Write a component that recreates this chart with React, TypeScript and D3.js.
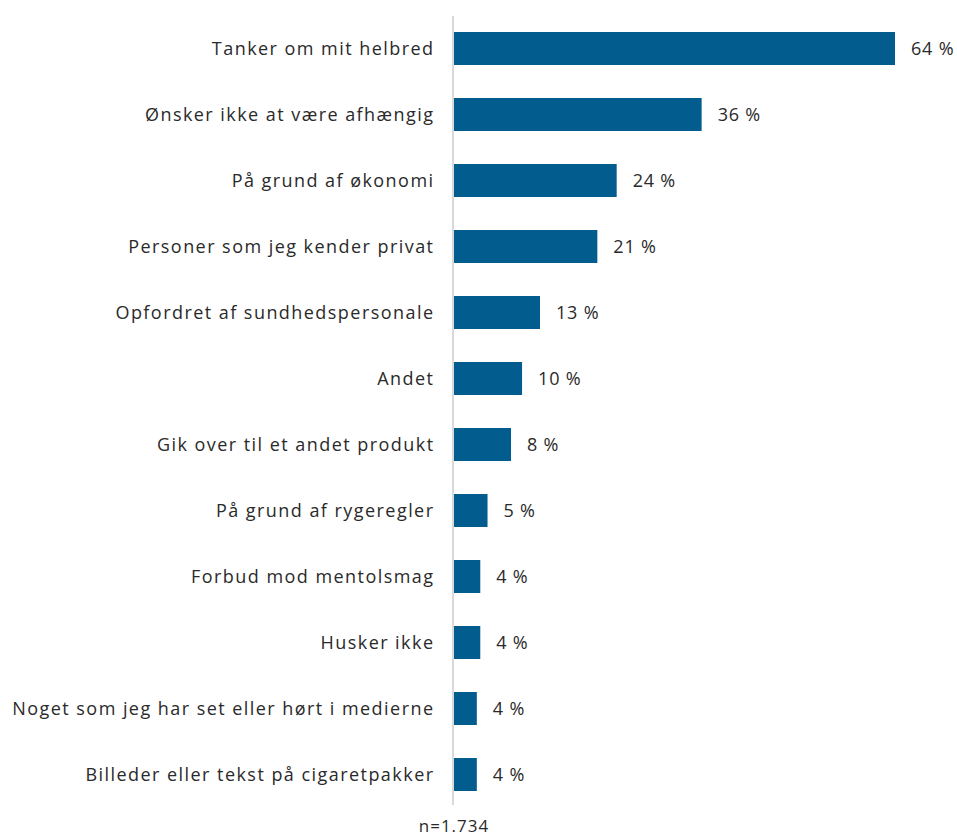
import React from "react";
import * as d3 from "d3";

const categories = [
  "Tanker om mit helbred",
  "Ønsker ikke at være afhængig",
  "På grund af økonomi",
  "Personer som jeg kender privat",
  "Opfordret af sundhedspersonale",
  "Andet",
  "Gik over til et andet produkt",
  "På grund af rygeregler",
  "Forbud mod mentolsmag",
  "Husker ikke",
  "Noget som jeg har set eller hørt i medierne",
  "Billeder eller tekst på cigaretpakker",
];
const values = [64, 36, 23.7, 20.9, 12.6, 10, 8.4, 5, 3.95, 3.95, 3.45, 3.45];
const valueLabels = ["64 %", "36 %", "24 %", "21 %", "13 %", "10 %", "8 %", "5 %", "4 %", "4 %", "4 %", "4 %"];
const note = "n=1.734";

const W = 957;
const H = 836;
const FONT = "'Open Sans', Lato, sans-serif";

export default function App() {
  const x0 = 453;
  const x = d3.scaleLinear().domain([0, 64]).range([x0, 895]);
  const y = d3
    .scaleBand<string>()
    .domain(categories)
    .range([15.5, 807.5])
    .paddingInner(0.5)
    .paddingOuter(0.25);

  return (
    <svg
      width={W}
      height={H}
      style={{ position: "absolute", left: 0, top: 0, background: "#fff" }}
      fontFamily={FONT}
    >
      <line x1={x0} x2={x0} y1={16} y2={805} stroke="#d9d9d9" strokeWidth={2} />
      {categories.map((c, i) => {
        const yc = (y(c) as number) + y.bandwidth() / 2;
        return (
          <g key={c}>
            <rect
              x={x(0) + 1}
              y={y(c)}
              width={x(values[i]) - x(0) - 1}
              height={y.bandwidth()}
              fill="#035c8e"
            />
            <text
              x={434.5}
              y={yc}
              dy="0.35em"
              textAnchor="end"
              fontSize={18}
              letterSpacing={1.45}
              fill="#2a2a2a"
            >
              {c}
            </text>
            <text
              x={x(values[i]) + 16}
              y={yc}
              dy="0.35em"
              fontSize={18}
              letterSpacing={0.8}
              fill="#2a2a2a"
            >
              {valueLabels[i]}
            </text>
          </g>
        );
      })}
      <text x={454} y={832} textAnchor="middle" fontSize={17} letterSpacing={1} fill="#2a2a2a">
        {note}
      </text>
    </svg>
  );
}
